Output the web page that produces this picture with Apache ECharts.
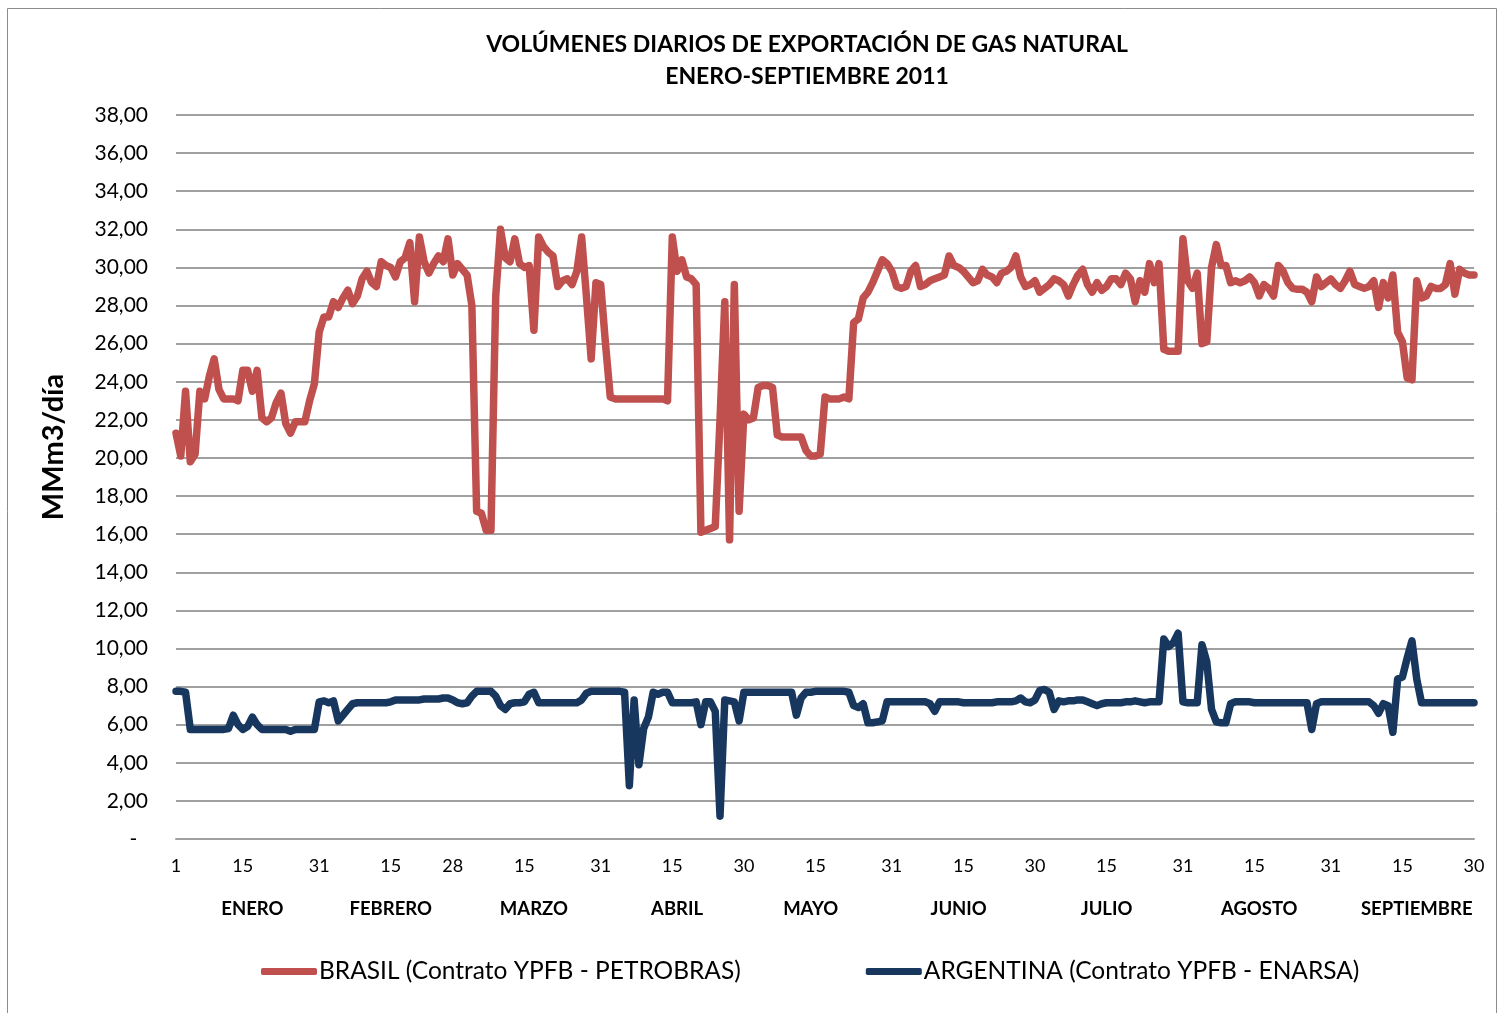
<!DOCTYPE html>
<html>
<head>
<meta charset="utf-8">
<script src="https://cdn.jsdelivr.net/npm/echarts@6/dist/echarts.min.js"></script>
<style>
  html, body { margin: 0; padding: 0; background: #fff; }
  #chart { width: 1503px; height: 1013px; }
</style>
</head>
<body>
<div id="chart"></div>
<script>
// meses y dias (enero-septiembre 2011)
var meses = ['ENERO', 'FEBRERO', 'MARZO', 'ABRIL', 'MAYO', 'JUNIO', 'JULIO', 'AGOSTO', 'SEPTIEMBRE'];
var diasMes = [31, 28, 31, 30, 31, 30, 31, 31, 30];
// posicion (indice de dia) de las etiquetas
var ticksDia = [0, 14, 30, 45, 58, 73, 89, 104, 119, 134, 150, 165, 180, 195, 211, 226, 242, 257, 272];
var ticksMes = [16, 45, 75, 105, 133, 164, 195, 227, 260];

// MMm3/dia, BRASIL (Contrato YPFB - PETROBRAS)
var brasil = [
  21.3, 20.1, 23.5, 19.8, 20.2, 23.5, 23.1, 24.3, 25.2, 23.6,
  23.1, 23.1, 23.1, 23.0, 24.6, 24.6, 23.5, 24.6, 22.1, 21.9,
  22.1, 22.9, 23.4, 21.8, 21.3, 21.9, 21.9, 21.9, 23.0, 23.9,
  26.6, 27.4, 27.4, 28.2, 27.9, 28.4, 28.8, 28.1, 28.5, 29.4,
  29.8, 29.2, 29.0, 30.3, 30.1, 30.0, 29.5, 30.3, 30.5, 31.3,
  28.2, 31.6, 30.3, 29.7, 30.2, 30.6, 30.3, 31.5, 29.6, 30.2,
  29.9, 29.6, 28.0, 17.2, 17.1, 16.2, 16.2, 28.5, 32.0, 30.5,
  30.3, 31.5, 30.2, 30.0, 30.1, 26.7, 31.6, 31.1, 30.8, 30.6,
  29.0, 29.3, 29.4, 29.1, 29.8, 31.6, 28.5, 25.2, 29.2, 29.1,
  26.0, 23.2, 23.1, 23.1, 23.1, 23.1, 23.1, 23.1, 23.1, 23.1,
  23.1, 23.1, 23.1, 23.0, 31.6, 29.8, 30.4, 29.5, 29.4, 29.1,
  16.1, 16.2, 16.3, 16.4, 22.0, 28.2, 15.7, 29.1, 17.2, 22.3,
  22.0, 22.1, 23.7, 23.8, 23.8, 23.7, 21.2, 21.1, 21.1, 21.1,
  21.1, 21.1, 20.4, 20.1, 20.1, 20.2, 23.2, 23.1, 23.1, 23.1,
  23.2, 23.1, 27.1, 27.3, 28.4, 28.7, 29.2, 29.8, 30.4, 30.2,
  29.8, 29.0, 28.9, 29.0, 29.8, 30.1, 29.0, 29.1, 29.3, 29.4,
  29.5, 29.6, 30.6, 30.1, 30.0, 29.8, 29.5, 29.2, 29.3, 29.9,
  29.6, 29.5, 29.2, 29.7, 29.8, 30.0, 30.6, 29.5, 29.0, 29.1,
  29.3, 28.7, 28.9, 29.1, 29.4, 29.3, 29.1, 28.5, 29.1, 29.6,
  29.9, 29.1, 28.7, 29.2, 28.8, 29.0, 29.4, 29.4, 29.1, 29.7,
  29.4, 28.2, 29.3, 28.7, 30.2, 29.2, 30.2, 25.7, 25.6, 25.6,
  25.6, 31.5, 29.3, 28.9, 29.7, 26.0, 26.1, 30.0, 31.2, 30.1,
  30.1, 29.2, 29.3, 29.2, 29.3, 29.5, 29.2, 28.5, 29.1, 28.9,
  28.5, 30.1, 29.8, 29.2, 28.9, 28.85, 28.85, 28.7, 28.2, 29.5,
  29.0, 29.2, 29.4, 29.1, 28.9, 29.3, 29.8, 29.1, 29.0, 28.9,
  29.0, 29.3, 27.9, 29.2, 28.4, 29.6, 26.6, 26.1, 24.2, 24.1,
  29.3, 28.4, 28.5, 29.0, 28.9, 28.9, 29.1, 30.2, 28.6, 29.9,
  29.7, 29.6, 29.6
];

// MMm3/dia, ARGENTINA (Contrato YPFB - ENARSA)
var argentina = [
  7.75, 7.75, 7.7, 5.75, 5.75, 5.75, 5.75, 5.75, 5.75, 5.75,
  5.75, 5.8, 6.5, 6.0, 5.75, 5.9, 6.4, 6.0, 5.75, 5.75,
  5.75, 5.75, 5.75, 5.75, 5.65, 5.75, 5.75, 5.75, 5.75, 5.75,
  7.2, 7.25, 7.15, 7.25, 6.2, 6.5, 6.8, 7.1, 7.15, 7.15,
  7.15, 7.15, 7.15, 7.15, 7.15, 7.2, 7.3, 7.3, 7.3, 7.3,
  7.3, 7.3, 7.35, 7.35, 7.35, 7.35, 7.4, 7.4, 7.3, 7.15,
  7.1, 7.15, 7.5, 7.75, 7.75, 7.75, 7.75, 7.5, 7.0, 6.8,
  7.1, 7.15, 7.15, 7.2, 7.6, 7.7, 7.15, 7.15, 7.15, 7.15,
  7.15, 7.15, 7.15, 7.15, 7.15, 7.3, 7.65, 7.75, 7.75, 7.75,
  7.75, 7.75, 7.75, 7.75, 7.7, 2.8, 7.3, 3.9, 5.8, 6.4,
  7.7, 7.6, 7.7, 7.7, 7.15, 7.15, 7.15, 7.15, 7.15, 7.2,
  6.0, 7.2, 7.2, 6.7, 1.2, 7.3, 7.25, 7.2, 6.2, 7.7,
  7.7, 7.7, 7.7, 7.7, 7.7, 7.7, 7.7, 7.7, 7.7, 7.7,
  6.5, 7.4, 7.7, 7.7, 7.75, 7.75, 7.75, 7.75, 7.75, 7.75,
  7.75, 7.7, 7.0, 6.9, 7.1, 6.1, 6.1, 6.15, 6.2, 7.2,
  7.2, 7.2, 7.2, 7.2, 7.2, 7.2, 7.2, 7.2, 7.1, 6.7,
  7.2, 7.2, 7.2, 7.2, 7.2, 7.15, 7.15, 7.15, 7.15, 7.15,
  7.15, 7.15, 7.2, 7.2, 7.2, 7.2, 7.25, 7.4, 7.2, 7.15,
  7.3, 7.8, 7.85, 7.7, 6.8, 7.25, 7.2, 7.25, 7.25, 7.3,
  7.3, 7.2, 7.1, 7.0, 7.1, 7.15, 7.15, 7.15, 7.15, 7.2,
  7.2, 7.25, 7.2, 7.15, 7.2, 7.2, 7.2, 10.5, 10.1, 10.3,
  10.8, 7.2, 7.15, 7.15, 7.15, 10.2, 9.3, 6.8, 6.15, 6.1,
  6.1, 7.1, 7.2, 7.2, 7.2, 7.2, 7.15, 7.15, 7.15, 7.15,
  7.15, 7.15, 7.15, 7.15, 7.15, 7.15, 7.15, 7.15, 5.75, 7.1,
  7.2, 7.2, 7.2, 7.2, 7.2, 7.2, 7.2, 7.2, 7.2, 7.2,
  7.2, 7.0, 6.6, 7.1, 7.0, 5.6, 8.4, 8.5, 9.5, 10.4,
  8.4, 7.15, 7.15, 7.15, 7.15, 7.15, 7.15, 7.15, 7.15, 7.15,
  7.15, 7.15, 7.15
];

// categorias: dia del mes y mes de cada punto
var dias = [], mesDe = [];
for (var m = 0; m < diasMes.length; m++) {
    for (var d = 1; d <= diasMes[m]; d++) {
        dias.push(String(d));
        mesDe.push(meses[m]);
    }
}

var fuente = 'Lato, "Open Sans", sans-serif';
var gris = '#a0a0a0';

var myChart = echarts.init(document.getElementById('chart'));

var option = {
    animation: false,
    textStyle: {fontFamily: fuente},
    title: {
        text: 'VOLÚMENES DIARIOS DE EXPORTACIÓN DE GAS NATURAL\nENERO-SEPTIEMBRE 2011',
        left: 802,
        textAlign: 'center',
        top: 24,
        textStyle: {fontSize: 23, fontWeight: 'bold', color: '#000', lineHeight: 32, fontFamily: fuente}
    },
    graphic: [{
        type: 'rect',
        shape: {x: 7.5, y: 8.5, width: 1489, height: 1010},
        style: {fill: 'none', stroke: '#8c8c8c', lineWidth: 1},
        silent: true
    }],
    legend: {
        bottom: 24,
        left: 256,
        itemWidth: 56,
        itemHeight: 7,
        itemGap: 125,
        icon: 'roundRect',
        textStyle: {fontSize: 24.5, color: '#000', fontFamily: fuente, padding: [0, 0, 0, -3]},
        data: ['BRASIL (Contrato YPFB - PETROBRAS)', 'ARGENTINA (Contrato YPFB - ENARSA)']
    },
    grid: {left: 176, right: 29, top: 115, bottom: 174},
    xAxis: [
        {
            type: 'category',
            boundaryGap: false,
            data: dias,
            axisLine: {show: true, lineStyle: {color: gris, width: 2}},
            axisTick: {show: false},
            axisLabel: {
                interval: function (i) { return ticksDia.indexOf(i) >= 0; },
                margin: 18,
                fontSize: 18,
                color: '#000'
            },
            splitLine: {show: false}
        },
        {
            type: 'category',
            boundaryGap: false,
            position: 'bottom',
            data: mesDe,
            axisLine: {show: false},
            axisTick: {show: false},
            axisLabel: {
                interval: function (i) { return ticksMes.indexOf(i) >= 0; },
                margin: 61,
                fontSize: 18.5,
                fontWeight: 'bold',
                color: '#000'
            },
            splitLine: {show: false}
        }
    ],
    yAxis: {
        type: 'value',
        min: 0,
        max: 38,
        interval: 2,
        name: 'MMm3/día',
        nameLocation: 'middle',
        nameGap: 108,
        nameTextStyle: {fontSize: 29, fontWeight: 'bold', color: '#000', fontFamily: fuente, padding: [0, 0, 0, 60]},
        axisLine: {show: false},
        axisTick: {show: false},
        axisLabel: {
            fontSize: 21,
            color: '#000',
            margin: 28,
            formatter: function (v) {
                return v === 0 ? '-  ' : v.toFixed(2).replace('.', ',');
            }
        },
        splitLine: {lineStyle: {color: gris, width: 2}}
    },
    series: [
        {
            name: 'BRASIL (Contrato YPFB - PETROBRAS)',
            type: 'line',
            data: brasil,
            symbol: 'none',
            itemStyle: {color: '#c0504d'},
            lineStyle: {color: '#c0504d', width: 7.5, cap: 'round', join: 'round'}
        },
        {
            name: 'ARGENTINA (Contrato YPFB - ENARSA)',
            type: 'line',
            data: argentina,
            symbol: 'none',
            itemStyle: {color: '#17375e'},
            lineStyle: {color: '#17375e', width: 7.5, cap: 'round', join: 'round'}
        }
    ]
};

myChart.setOption(option);
</script>
</body>
</html>
